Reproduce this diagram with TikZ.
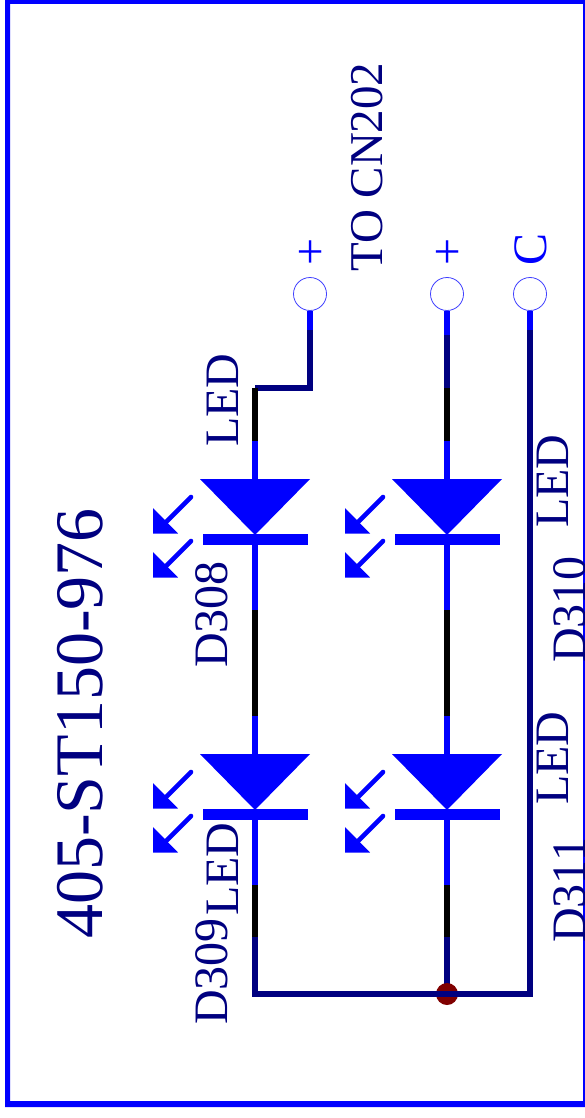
\documentclass[tikz,border=0pt]{standalone}
\usepackage{fontspec}
\setmainfont{Liberation Serif}
\definecolor{wnavy}{RGB}{0,0,128}
\definecolor{wblue}{RGB}{0,0,255}
\definecolor{jdot}{RGB}{128,0,0}
\tikzset{
  x=1pt,y=-1pt,
  framebox/.style={fill=wblue,even odd rule},
  bluewire/.style={draw=wblue,line width=5.3pt},
  navywire/.style={draw=wnavy,line width=5.3pt,line join=miter},
  blackwire/.style={draw=black,line width=5.3pt},
  pinhole/.style={circle,draw=wblue!75!white,line width=0.8pt,fill=white,minimum size=33pt,inner sep=0pt},
  junction/.style={circle,fill=jdot,minimum size=22pt,inner sep=0pt},
  ledbody/.style={fill=wblue,draw=none},
  ledbar/.style={fill=wblue,draw=none},
  lightstem/.style={draw=wblue,line width=4.6pt,line cap=round},
  lbl/.style={rotate=90,anchor=base west,inner sep=0pt,text=wnavy,font=\fontsize{48}{48}\selectfont},
  lblblue/.style={lbl,text=wblue},
}
\newcommand{\ledat}[3]{% x, y of triangle top, name
  \fill[ledbody] (#1-55,#2) -- (#1+55,#2) -- (#1,#2+56) -- cycle;
  \fill[ledbar] (#1-52.5,#2+55) rectangle (#1+52.5,#2+66);
  \coordinate (#3in) at (#1,#2);
  \coordinate (#3out) at (#1,#2+66);
  \draw[lightstem] (#1-64,#2+18) -- (#1-89,#2+43);
  \fill[wblue] (#1-102,#2+29) -- (#1-102,#2+54.5) -- (#1-77,#2+54.5) -- cycle;
  \draw[lightstem] (#1-64,#2+62) -- (#1-89,#2+87);
  \fill[wblue] (#1-102,#2+73) -- (#1-102,#2+98.5) -- (#1-77,#2+98.5) -- cycle;
}
\begin{document}
\begin{tikzpicture}
\useasboundingbox (0,0) rectangle (585,1118);
\fill[white] (0,0) rectangle (585,1118);
\fill[framebox] (5,0) rectangle (590,1107) (10,4) rectangle (583,1101);
% pins
\node[pinhole] (p1) at (310,294) {};
\node[pinhole] (p2) at (447,294) {};
\node[pinhole] (p3) at (530,294) {};
% LEDs
\ledat{255}{479}{dA}
\ledat{447}{479}{dB}
\ledat{255}{754}{dC}
\ledat{447}{754}{dD}
% wire waypoints
\coordinate (cA) at (310,330);
\coordinate (cB) at (310,388);
\coordinate (cC) at (255,388);
\coordinate (cD) at (255,441);
\coordinate (e1) at (255,610);
\coordinate (e2) at (255,716);
\coordinate (e3) at (255,885);
\coordinate (e4) at (255,937);
\coordinate (bl) at (255,994);
\coordinate (f0) at (447,335);
\coordinate (f1) at (447,388);
\coordinate (f2) at (447,441);
\coordinate (f3) at (447,610);
\coordinate (f4) at (447,716);
\coordinate (f5) at (447,885);
\coordinate (f6) at (447,937);
\coordinate (g0) at (530,330);
\coordinate (br) at (530,994);
\coordinate (jc) at (447,994);
% column 1
\draw[bluewire] (p1.south) -- (cA);
\draw[navywire] (cA) -- (cB) -- (cC);
\draw[blackwire] (cC) -- (cD);
\draw[bluewire] (cD) -- (dAin);
\draw[bluewire] (dAout) -- (e1);
\draw[blackwire] (e1) -- (e2);
\draw[bluewire] (e2) -- (dCin);
\draw[bluewire] (dCout) -- (e3);
\draw[blackwire] (e3) -- (e4);
% column 2
\draw[bluewire] (p2.south) -- (f0);
\draw[navywire] (f0) -- (f1);
\draw[blackwire] (f1) -- (f2);
\draw[bluewire] (f2) -- (dBin);
\draw[bluewire] (dBout) -- (f3);
\draw[blackwire] (f3) -- (f4);
\draw[bluewire] (f4) -- (dDin);
\draw[bluewire] (dDout) -- (f5);
\draw[blackwire] (f5) -- (f6);
% column 3 and return
\draw[bluewire] (p3.south) -- (g0);
\draw[navywire] (f6) -- (jc);
\node[junction] (j) at (jc) {};
\draw[navywire] (e4) -- (bl) -- (br) -- (g0);
% labels
\node[lbl,font=\fontsize{68}{68}\selectfont] (title) at (102,939) {405-ST150-976};
\node[lbl,font=\fontsize{47}{47}\selectfont] (to) at (382,272) {TO CN202};
\node[lblblue] (plusa) at (326,266) {+};
\node[lblblue] (plusb) at (463,266) {+};
\node[lblblue] (cc) at (546,266) {C};
\node[lbl] (l1) at (238,447) {LED};
\node[lbl] (n1) at (227,668) {D308};
\node[lbl] (l2) at (568,528) {LED};
\node[lbl] (n2) at (585,663) {D310};
\node[lbl] (l3) at (238,916) {LED};
\node[lbl] (n3) at (227,1025) {D309};
\node[lbl] (l4) at (568,805) {LED};
\node[lbl] (n4) at (585,943) {D311};
\end{tikzpicture}
\end{document}
